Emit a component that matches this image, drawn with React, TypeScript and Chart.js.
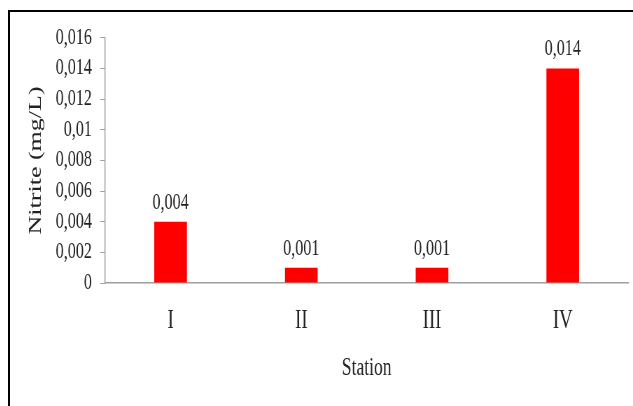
import React, { useEffect, useRef } from "react";
import { Chart, registerables } from "chart.js";

Chart.register(...registerables);

const stations = ["I", "II", "III", "IV"];
const nitrite = [0.004, 0.001, 0.001, 0.014];
const yTickLabels = ["0", "0,002", "0,004", "0,006", "0,008", "0,01", "0,012", "0,014", "0,016"];
const yTitle = "Nitrite (mg/L)";
const xTitle = "Station";

const SX = 0.7; // horizontal compression of the reference rendering
const W = 890;
const H = 394;
const FONT = "'Liberation Serif', 'Times New Roman', serif";
const TEXT = "#222222";
const AXIS = "#9e9e9e";

const fmt = (v: number) => v.toFixed(3).replace(".", ",");

const barLabels = {
  id: "barLabels",
  afterDatasetsDraw(chart: any) {
    const ctx = chart.ctx;
    const meta = chart.getDatasetMeta(0);
    ctx.save();
    ctx.font = `23px ${FONT}`;
    ctx.fillStyle = TEXT;
    ctx.textAlign = "center";
    ctx.textBaseline = "alphabetic";
    meta.data.forEach((el: any, i: number) => {
      ctx.fillText(fmt(nitrite[i]), el.x, el.y - 13);
    });
    ctx.restore();
  },
};

export default function App() {
  const ref = useRef<HTMLCanvasElement | null>(null);
  useEffect(() => {
    if (!ref.current) return;
    const chart = new Chart(ref.current, {
      type: "bar",
      data: {
        labels: stations,
        datasets: [
          {
            data: nitrite,
            backgroundColor: "#ff0000",
            borderWidth: 0,
            barPercentage: 0.25,
            categoryPercentage: 1,
          },
        ],
      },
      options: {
        animation: false,
        responsive: false,
        devicePixelRatio: 1,
        layout: { padding: { left: 0, right: 7, top: 23, bottom: 0 } },
        plugins: { legend: { display: false }, tooltip: { enabled: false } },
        scales: {
          x: {
            grid: { display: true, drawOnChartArea: false, drawTicks: false },
            border: { display: true, color: AXIS, width: 1.5 },
            ticks: { color: TEXT, font: { family: FONT, size: 27 }, padding: 22 },
            title: {
              display: true,
              text: xTitle,
              color: TEXT,
              font: { family: FONT, size: 25 },
              padding: { top: 0, bottom: 23 },
            },
            afterFit: (s: any) => {
              s.height = 123;
            },
          },
          y: {
            min: 0,
            max: 0.016,
            ticks: {
              stepSize: 0.002,
              color: TEXT,
              font: { family: FONT, size: 23 },
              padding: 12,
              callback: (_v: any, i: number) => yTickLabels[i],
            },
            grid: { display: true, drawOnChartArea: false, drawTicks: true, tickLength: 7, color: AXIS, lineWidth: 1 },
            border: { display: true, color: AXIS, width: 1.4 },
            title: {
              display: true,
              text: yTitle,
              color: TEXT,
              font: { family: FONT, size: 26 },
              padding: { top: 21.4, bottom: 0 },
            },
            afterFit: (s: any) => {
              s.width = 136;
            },
          },
        },
      },
      plugins: [barLabels],
    } as any);
    return () => chart.destroy();
  }, []);

  return (
    <div
      style={{
        position: "fixed",
        left: 8,
        top: 10,
        width: 625,
        height: 396,
        borderLeft: "2px solid #000",
        borderTop: "2px solid #000",
        boxSizing: "border-box",
        overflow: "hidden",
        background: "#fff",
      }}
    >
      <div
        style={{
          position: "absolute",
          left: 0,
          top: 0,
          width: W,
          height: H,
          transform: `scaleX(${SX})`,
          transformOrigin: "0 0",
        }}
      >
        <canvas ref={ref} width={W} height={H} />
      </div>
    </div>
  );
}
